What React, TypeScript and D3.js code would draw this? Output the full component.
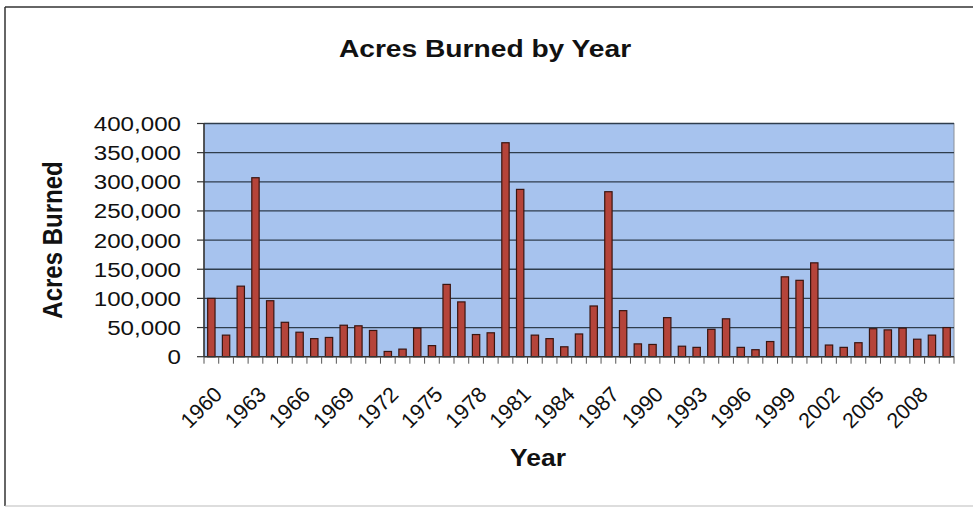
import { useEffect, useRef } from 'react'
import * as d3 from 'd3'

const years = d3.range(1960, 2011)
const acres = [
  100000, 37000, 121000, 307000, 96000, 59000, 42000, 31000, 33000, 54000,
  53000, 45000, 9000, 13000, 49000, 19000, 124000, 94000, 38000, 41000,
  367000, 287000, 37000, 31000, 17000, 39000, 87000, 283000, 79000, 22000,
  21000, 67000, 18000, 16000, 47000, 65000, 16000, 12000, 26000, 137000,
  131000, 161000, 20000, 16000, 24000, 48000, 46000, 49000, 30000, 37000,
  50000,
]
const yTicks = [0, 50000, 100000, 150000, 200000, 250000, 300000, 350000, 400000]
const xLabelYears = years.filter(y => (y - 1960) % 3 === 0 && y <= 2008)

const FONT = '"Liberation Sans", Arial, sans-serif'
const SX = 1.15 // scan looks stretched sideways

export default function App() {
  const ref = useRef<SVGSVGElement | null>(null)

  useEffect(() => {
    const el = ref.current
    if (!el) return
    const svg = d3.select(el)
    svg.selectAll('*').remove()

    const W = 973, H = 508
    const m = { left: 204, right: W - 954, top: 123.5, bottom: H - 356.7 }

    svg.append('rect').attr('width', W).attr('height', H).attr('fill', '#fff')
    // outer chart frame (only top/left/bottom show in the scan)
    svg.append('line').attr('x1', 5).attr('x2', W).attr('y1', 7).attr('y2', 7)
      .attr('stroke', '#333').attr('stroke-width', 1.5)
    svg.append('line').attr('x1', 5).attr('x2', 5).attr('y1', 7).attr('y2', 506)
      .attr('stroke', '#333').attr('stroke-width', 1.5)
    svg.append('line').attr('x1', 5).attr('x2', W).attr('y1', 506).attr('y2', 506)
      .attr('stroke', '#bbb').attr('stroke-width', 1)

    const x = d3.scaleBand<number>().domain(years).range([m.left, W - m.right]).paddingInner(0.5).paddingOuter(0.25)
    const step = (W - m.right - m.left) / years.length
    const y = d3.scaleLinear().domain([0, 400000]).range([H - m.bottom, m.top])

    // plot background
    svg.append('rect')
      .attr('x', m.left).attr('y', m.top)
      .attr('width', W - m.right - m.left).attr('height', H - m.bottom - m.top)
      .attr('fill', '#a7c3ee').attr('stroke', '#8a8f98').attr('stroke-width', 1)

    // gridlines
    svg.append('g').selectAll('line').data(yTicks.filter(t => t > 0)).join('line')
      .attr('x1', m.left).attr('x2', W - m.right)
      .attr('y1', d => y(d)).attr('y2', d => y(d))
      .attr('stroke', '#2f3d4c').attr('stroke-width', 1.3)

    // bars
    svg.append('g').selectAll('rect').data(acres).join('rect')
      .attr('x', (_, i) => x(years[i]) ?? 0)
      .attr('y', d => y(d))
      .attr('width', x.bandwidth())
      .attr('height', d => y(0) - y(d))
      .attr('fill', '#b5443a').attr('stroke', '#3a1510').attr('stroke-width', 1.2)

    // y axis
    const ya = svg.append('g')
    ya.append('line').attr('x1', m.left).attr('x2', m.left).attr('y1', m.top).attr('y2', y(0))
      .attr('stroke', '#333').attr('stroke-width', 1.5)
    ya.selectAll('line.t').data(yTicks).join('line').attr('class', 't')
      .attr('x1', m.left - 7).attr('x2', m.left)
      .attr('y1', d => y(d)).attr('y2', d => y(d))
      .attr('stroke', '#333').attr('stroke-width', 1.2)
    ya.selectAll('text').data(yTicks).join('text')
      .attr('transform', d => `translate(181,${y(d) + 7.5}) scale(${SX},1)`)
      .attr('text-anchor', 'end').attr('font-family', FONT).attr('font-size', 21).attr('fill', '#111')
      .text(d => d3.format(',')(d))

    // x axis
    const xa = svg.append('g')
    xa.append('line').attr('x1', m.left).attr('x2', W - m.right).attr('y1', y(0)).attr('y2', y(0))
      .attr('stroke', '#333').attr('stroke-width', 1.5)
    xa.selectAll('line.t').data(d3.range(years.length + 1)).join('line').attr('class', 't')
      .attr('x1', i => m.left + i * step).attr('x2', i => m.left + i * step)
      .attr('y1', y(0)).attr('y2', y(0) + 7)
      .attr('stroke', '#555').attr('stroke-width', 1)
    xa.selectAll('text').data(xLabelYears).join('text')
      .attr('transform', d => `translate(${(x(d) ?? 0) + x.bandwidth() / 2 + 12},${y(0) + 39}) rotate(-45)`)
      .attr('text-anchor', 'end').attr('font-family', FONT).attr('font-size', 21.5).attr('fill', '#111')
      .text(d => String(d))

    // titles
    svg.append('text')
      .attr('transform', `translate(485,57) scale(${SX},1)`)
      .attr('text-anchor', 'middle').attr('font-family', FONT).attr('font-weight', 'bold')
      .attr('font-size', 24.5).attr('fill', '#111').text('Acres Burned by Year')
    svg.append('text')
      .attr('transform', `translate(62,240) scale(${SX},1) rotate(-90)`)
      .attr('text-anchor', 'middle').attr('font-family', FONT).attr('font-weight', 'bold')
      .attr('font-size', 24).attr('fill', '#111').text('Acres Burned')
    svg.append('text')
      .attr('transform', `translate(538,466) scale(${SX},1)`)
      .attr('text-anchor', 'middle').attr('font-family', FONT).attr('font-weight', 'bold')
      .attr('font-size', 23).attr('fill', '#111').text('Year')
  }, [])

  return <svg ref={ref} width={973} height={508} style={{ position: 'absolute', left: 0, top: 0 }} />
}
